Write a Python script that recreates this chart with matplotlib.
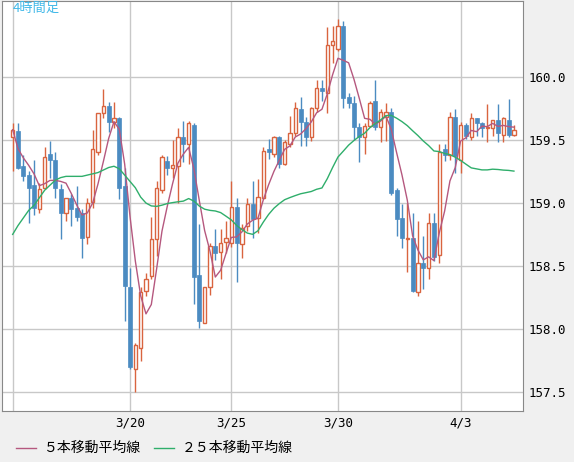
import numpy as np
import pandas as pd
import matplotlib
matplotlib.use("Agg")
import matplotlib.pyplot as plt

# 4-hour OHLC
opens = [159.52, 159.57, 159.29, 159.22, 159.14, 158.95, 159.12, 159.39, 159.34, 159.11,
         158.92, 159.04, 158.96, 158.92, 158.73, 159.01, 159.40, 159.71, 159.77, 159.64,
         159.67, 159.13, 158.33, 157.68, 157.85, 158.30, 158.42, 158.71, 159.10, 159.33,
         159.28, 159.29, 159.52, 159.47, 159.62, 158.43, 158.05, 158.33, 158.66, 158.61,
         158.69, 158.68, 158.97, 158.67, 158.82, 158.99, 158.88, 159.04, 159.43, 159.39,
         159.52, 159.31, 159.47, 159.55, 159.74, 159.64, 159.52, 159.75, 159.91, 159.87,
         160.25, 160.22, 160.40, 159.84, 159.79, 159.60, 159.52, 159.61, 159.81, 159.60,
         159.68, 159.72, 159.10, 158.88, 158.71, 158.72, 158.29, 158.52, 158.48, 158.84,
         158.59, 159.43, 159.38, 159.68, 159.34, 159.62, 159.52, 159.67, 159.63, 159.59,
         159.59, 159.66, 159.54, 159.66, 159.54]
highs = [159.63, 159.63, 159.38, 159.25, 159.34, 159.16, 159.44, 159.49, 159.40, 159.15,
         159.04, 159.07, 159.13, 158.95, 159.04, 159.58, 159.71, 159.90, 159.80, 159.80,
         159.68, 159.28, 158.48, 157.89, 158.33, 158.44, 158.89, 159.17, 159.38, 159.37,
         159.50, 159.59, 159.65, 159.65, 159.63, 158.83, 158.33, 158.68, 158.79, 158.79,
         158.86, 159.17, 159.04, 158.83, 159.04, 159.17, 159.19, 159.44, 159.51, 159.53,
         159.53, 159.50, 159.69, 159.80, 159.84, 159.68, 159.76, 159.97, 159.97, 160.39,
         160.40, 160.46, 160.44, 159.87, 159.85, 159.63, 159.63, 159.81, 159.97, 159.74,
         159.79, 159.75, 159.12, 158.99, 159.00, 158.92, 158.86, 158.74, 158.92, 158.92,
         159.47, 159.47, 159.72, 159.74, 159.64, 159.63, 159.71, 159.67, 159.64, 159.78,
         159.66, 159.78, 159.68, 159.82, 159.62]
lows = [159.25, 159.27, 159.17, 158.84, 158.90, 158.92, 159.11, 159.20, 159.04, 158.71,
        158.86, 158.82, 158.86, 158.56, 158.67, 158.96, 159.38, 159.67, 159.56, 159.59,
        159.03, 158.06, 157.68, 157.50, 157.75, 158.26, 158.40, 158.58, 159.08, 159.22,
        159.20, 159.00, 159.32, 159.31, 158.20, 158.01, 158.05, 158.27, 158.55, 158.40,
        158.60, 158.65, 158.37, 158.56, 158.78, 158.72, 158.76, 159.03, 159.35, 159.36,
        159.28, 159.30, 159.44, 159.53, 159.45, 159.45, 159.49, 159.72, 159.81, 159.71,
        160.11, 160.20, 159.75, 159.75, 159.50, 159.32, 159.39, 159.60, 159.58, 159.48,
        159.49, 159.06, 158.74, 158.64, 158.45, 158.29, 158.26, 158.32, 158.40, 158.54,
        158.52, 159.33, 159.34, 159.24, 159.24, 159.51, 159.50, 159.53, 159.52, 159.48,
        159.53, 159.48, 159.48, 159.52, 159.53]
closes = [159.58, 159.28, 159.21, 159.12, 158.96, 159.11, 159.36, 159.34, 159.12, 158.92,
          159.04, 158.95, 158.89, 158.72, 159.00, 159.43, 159.71, 159.77, 159.64, 159.67,
          159.12, 158.34, 157.70, 157.87, 158.29, 158.40, 158.71, 159.12, 159.36, 159.28,
          159.30, 159.52, 159.47, 159.63, 158.41, 158.06, 158.33, 158.66, 158.60, 158.68,
          158.72, 158.97, 158.68, 158.80, 158.99, 158.87, 159.05, 159.41, 159.40, 159.52,
          159.31, 159.48, 159.55, 159.75, 159.64, 159.52, 159.75, 159.91, 159.89, 160.25,
          160.28, 160.40, 159.83, 159.79, 159.60, 159.52, 159.61, 159.79, 159.60, 159.72,
          159.72, 159.08, 158.87, 158.72, 158.72, 158.30, 158.52, 158.48, 158.84, 158.57,
          159.40, 159.38, 159.68, 159.37, 159.62, 159.53, 159.67, 159.63, 159.59, 159.60,
          159.66, 159.55, 159.67, 159.54, 159.58]

# 25-bar MA for the first bars (needs history not on the chart)
ma25_head = [158.75, 158.82, 158.88, 158.94, 158.98, 159.04, 159.10, 159.14, 159.18, 159.20,
             159.21, 159.21, 159.21, 159.21, 159.22, 159.23, 159.24, 159.26, 159.28, 159.29,
             159.27, 159.22, 159.17, 159.12]

date_pos = [0, 22, 41, 61, 84]
date_labels = ["", "3/20", "3/25", "3/30", "4/3"]
yticks = [157.5, 158.0, 158.5, 159.0, 159.5, 160.0]

UP = "#d9643f"
DOWN = "#4b8bc1"
MA5_C = "#b5587f"
MA25_C = "#2fae6b"

df = pd.DataFrame({"o": opens, "h": highs, "l": lows, "c": closes})
x = np.arange(len(df))
ma5 = df["c"].rolling(5, min_periods=1).mean()
ma25 = df["c"].rolling(25).mean()
ma25.iloc[:len(ma25_head)] = ma25_head

fig = plt.figure(figsize=(5.74, 4.62), dpi=100, facecolor="#f0f0f0")
ax = fig.add_axes([2 / 574, 51 / 462, 521 / 574, 410 / 462])
ax.set_facecolor("white")

up = df["c"] >= df["o"]
ax.vlines(x[up], df["l"][up], df["h"][up], color=UP, lw=1, zorder=2)
ax.vlines(x[~up], df["l"][~up], df["h"][~up], color=DOWN, lw=1, zorder=2)
body_lo = np.minimum(df["o"], df["c"])
body_h = np.maximum(np.abs(df["c"] - df["o"]), 0.01)
ax.bar(x[up], body_h[up], bottom=body_lo[up], width=0.6, facecolor="white",
       edgecolor=UP, lw=1, zorder=3)
ax.bar(x[~up], body_h[~up], bottom=body_lo[~up], width=0.75, facecolor=DOWN,
       edgecolor=DOWN, lw=0.5, zorder=3)

ax.plot(x, ma5, color=MA5_C, lw=1, zorder=4)
ax.plot(x, ma25, color=MA25_C, lw=1, zorder=4)

ax.set_xlim(-2.0, 95.7)
ax.set_ylim(157.35, 160.6)
ax.yaxis.tick_right()
ax.set_yticks(yticks)
ax.set_yticklabels([f"{v:.1f}" for v in yticks], family="DejaVu Sans Mono", fontsize=9)
ax.set_xticks(date_pos)
ax.set_xticklabels(date_labels, family="DejaVu Sans Mono", fontsize=9)
ax.tick_params(length=0, pad=4)
ax.grid(True, color="#c8c8c8", lw=1, zorder=0)
ax.set_axisbelow(True)
for s in ax.spines.values():
    s.set_color("#888888")

jp = ["Noto Sans CJK JP", "DejaVu Sans"]
ax.text(0.02, 0.998, "4時間足", transform=ax.transAxes, ha="left", va="top",
        color="#40b8e8", fontsize=9.5, family=jp)

ly = 14 / 462
fig.add_artist(plt.Line2D([16 / 574, 36 / 574], [ly, ly], color=MA5_C, lw=1,
                          transform=fig.transFigure))
fig.text(44 / 574, ly, "５本移動平均線", family=jp, fontsize=10, va="center")
fig.add_artist(plt.Line2D([154 / 574, 174 / 574], [ly, ly], color=MA25_C, lw=1,
                          transform=fig.transFigure))
fig.text(182 / 574, ly, "２５本移動平均線", family=jp, fontsize=10, va="center")

fig.savefig("out.png", dpi=100, facecolor=fig.get_facecolor())
